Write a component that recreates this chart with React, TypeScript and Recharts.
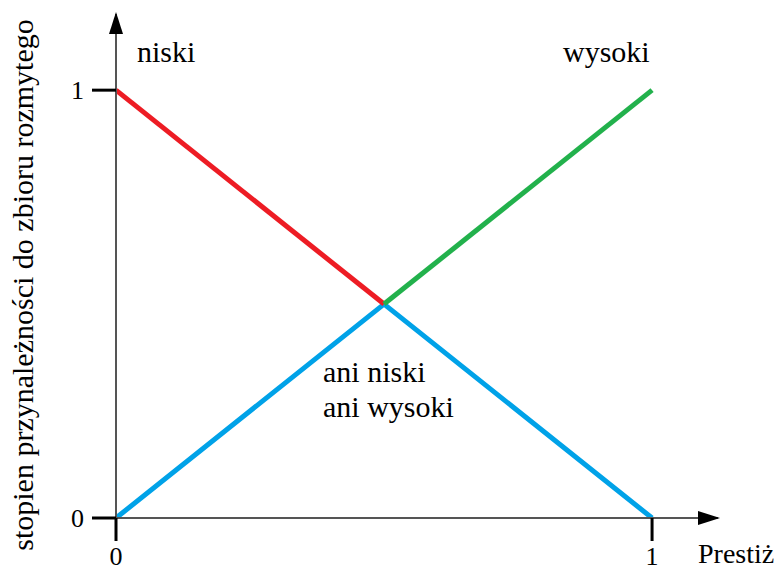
import React from 'react'
import { Customized, Line, LineChart, ReferenceDot, XAxis, YAxis } from 'recharts'

const niskiX = [0, 0.5]
const niskiY = [1, 0.5]
const wysokiX = [0.5, 1]
const wysokiY = [0.5, 1]
const aniX = [0, 0.5, 1]
const aniY = [0, 0.5, 0]
const xTicks = [0, 1]
const yTicks = [0, 1]

const toPoints = (xs: number[], ys: number[]) => xs.map((x, i) => ({ x, y: ys[i] }))

const FONT = '"Liberation Serif", "Times New Roman", serif'
const X_MAX = 1.123
const Y_MAX = 1.178

const ArrowRight = ({ cx, cy }: any) => (
    <polygon points={`${cx + 2},${cy} ${cx - 20},${cy - 7} ${cx - 20},${cy + 7}`} fill="#000" />
)
const ArrowUp = ({ cx, cy }: any) => (
    <polygon points={`${cx},${cy - 2} ${cx - 7},${cy + 20} ${cx + 7},${cy + 20}`} fill="#000" />
)

const Labels = () => (
    <g fontFamily={FONT} fill="#000">
        <text x={137} y={62} fontSize={30}>niski</text>
        <text x={563} y={62} fontSize={30}>wysoki</text>
        <text x={323} y={382} fontSize={30}>ani niski</text>
        <text x={323} y={417} fontSize={30}>ani wysoki</text>
        <text x={698} y={563} fontSize={28}>Prestiż</text>
        <text transform="translate(33, 285) rotate(-90)" textAnchor="middle" fontSize={30}>
            stopien przynależności do zbioru rozmytego
        </text>
    </g>
)

export default function App() {
    return (
        <div style={{ position: 'absolute', left: 0, top: 0, width: 782, height: 571, background: '#fff' }}>
            <LineChart width={782} height={571} margin={{ top: 14, right: 64, bottom: 0, left: 0 }}>
                <XAxis
                    type="number"
                    dataKey="x"
                    domain={[0, X_MAX]}
                    ticks={xTicks}
                    allowDataOverflow
                    height={53}
                    tickSize={23}
                    tickMargin={6}
                    axisLine={{ stroke: '#555', strokeWidth: 2 }}
                    tickLine={{ stroke: '#000', strokeWidth: 3 }}
                    tick={{ fill: '#000', fontSize: 26, fontFamily: FONT }}
                />
                <YAxis
                    type="number"
                    dataKey="y"
                    domain={[0, Y_MAX]}
                    ticks={yTicks}
                    allowDataOverflow
                    width={116}
                    tickSize={24}
                    tickMargin={8}
                    axisLine={{ stroke: '#555', strokeWidth: 2 }}
                    tickLine={{ stroke: '#000', strokeWidth: 3 }}
                    tick={{ fill: '#000', fontSize: 26, fontFamily: FONT }}
                />
                <Line data={toPoints(aniX, aniY)} dataKey="y" stroke="#00a2e8" strokeWidth={5} dot={false} isAnimationActive={false} />
                <Line data={toPoints(niskiX, niskiY)} dataKey="y" stroke="#ed1c24" strokeWidth={5} dot={false} isAnimationActive={false} />
                <Line data={toPoints(wysokiX, wysokiY)} dataKey="y" stroke="#22b14c" strokeWidth={5} dot={false} isAnimationActive={false} />
                <ReferenceDot x={X_MAX} y={0} ifOverflow="visible" shape={ArrowRight} />
                <ReferenceDot x={0} y={Y_MAX} ifOverflow="visible" shape={ArrowUp} />
                <Customized component={Labels} />
            </LineChart>
        </div>
    )
}
